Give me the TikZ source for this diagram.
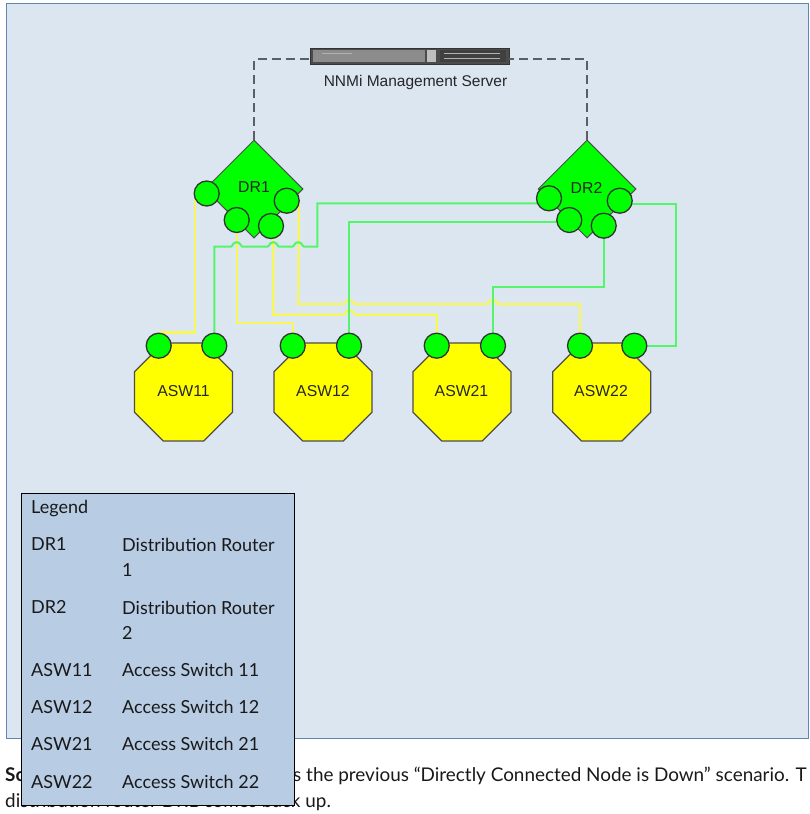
\documentclass[tikz,border=0pt]{standalone}
\usepackage{fontspec}
\setmainfont{Liberation Sans}
\newfontfamily\legendfont{Lato}
\usetikzlibrary{shapes.geometric}
\definecolor{panelblue}{HTML}{DCE6F1}
\definecolor{panelline}{HTML}{5F86B3}
\definecolor{legendblue}{HTML}{B8CCE4}
\definecolor{portgreen}{HTML}{00FF00}
\definecolor{switchyellow}{HTML}{FFFF00}
\definecolor{wiregreen}{HTML}{55F56A}
\definecolor{wireyellow}{HTML}{F7F75A}
\definecolor{dashgray}{HTML}{5A5F66}
\definecolor{edgegray}{HTML}{4D4D4D}
\pgfdeclarelayer{panel}
\pgfdeclarelayer{wires}
\pgfsetlayers{panel,wires,main}
\tikzset{
	router/.style={diamond,aspect=1,draw=edgegray,line width=1pt,fill=portgreen,inner sep=0pt,minimum size=98pt},
	switchbox/.style={regular polygon,regular polygon sides=8,draw=edgegray,line width=1.2pt,fill=switchyellow,inner sep=0pt,minimum size=106pt},
	port/.style={circle,draw=black!80,line width=1.3pt,fill=portgreen,inner sep=0pt,minimum size=25pt},
	devlabel/.style={font=\fontsize{15.8}{18}\selectfont,text=black!85},
	legendtext/.style={font=\legendfont\fontsize{18}{25.5}\selectfont,anchor=base west,align=left,text=black!90,inner sep=0pt},
	bodytext/.style={font=\legendfont\fontsize{18.9}{25.5}\selectfont,anchor=base west,inner sep=0pt,text=black!90},
	greenwire/.style={draw=wiregreen,line width=2pt},
	yellowwire/.style={draw=wireyellow,line width=2.2pt},
	mgmtlink/.style={dash pattern=on 9pt off 5pt,draw=dashgray,line width=2pt}
}
\newcommand{\hop}[2]{-- (#1-6,#2) .. controls (#1-4,#2) and (#1-4,#2-4.5) .. (#1,#2-4.5) .. controls (#1+4,#2-4.5) and (#1+4,#2) .. (#1+6,#2)}
\begin{document}
\begin{tikzpicture}[x=1pt,y=-1pt]
	\useasboundingbox (0,0) rectangle (809,814);
	\begin{pgfonlayer}{panel}
	\node[bodytext] (sc) at (5,781) {\bfseries Sc};
	\node[bodytext] (prev) at (293,781) {s the previous “Directly Connected Node is Down” scenario. T};
	\node[bodytext] (dist) at (5,807.5) {distribution router DR1 comes back up.};
	\node[draw=panelline,fill=panelblue,line width=1pt,minimum width=802pt,minimum height=735pt,anchor=north west,inner sep=0pt] (panel) at (6,3) {};
	\end{pgfonlayer}

	\node[draw=black!80,fill=black!70,minimum width=199pt,minimum height=16pt,inner sep=0pt] (server) at (409.5,56) {};
	\fill[black!45] (313,50) rectangle (425,62);
	\fill[black!75] (440,50) rectangle (506,62);
	\fill[black!25] (427,50) rectangle (436,62);
	\draw[black!30,line width=1pt] (444,53) -- (500,53) (444,58) -- (500,58);
	\draw[white!70!black,line width=1pt] (322,53) -- (352,53);
	\node[devlabel,font=\fontsize{15.5}{17}\selectfont] (serverlabel) at (415.5,82.5) {NNMi Management Server};

	\node[router] (DR1) at (254,189) {};
	\node[router] (DR2) at (587,189) {};
	\node[switchbox] (ASW11) at (183.5,392) {};
	\node[switchbox] (ASW12) at (323,392) {};
	\node[switchbox] (ASW21) at (462,392) {};
	\node[switchbox] (ASW22) at (601.7,392) {};
	\node[devlabel] (DR1label) at (254,187.5) {DR1};
	\node[devlabel] (DR2label) at (586.5,187.5) {DR2};
	\node[devlabel] (ASW11label) at (183.5,391) {ASW11};
	\node[devlabel] (ASW12label) at (323,391) {ASW12};
	\node[devlabel] (ASW21label) at (461.5,391) {ASW21};
	\node[devlabel] (ASW22label) at (601,391) {ASW22};

	\node[port] (DR1a) at (206.7,193.5) {};
	\node[port] (DR1b) at (236.7,220) {};
	\node[port] (DR1c) at (271,226) {};
	\node[port] (DR1d) at (286.7,200.7) {};
	\node[port] (DR2a) at (549,198.3) {};
	\node[port] (DR2b) at (569.3,220) {};
	\node[port] (DR2c) at (603.7,225.7) {};
	\node[port] (DR2d) at (619.7,200.7) {};
	\node[port] (ASW11a) at (158.7,345.7) {};
	\node[port] (ASW11b) at (214.3,345.7) {};
	\node[port] (ASW12a) at (292.7,345.7) {};
	\node[port] (ASW12b) at (349,345.7) {};
	\node[port] (ASW21a) at (436.7,345.7) {};
	\node[port] (ASW21b) at (493,345.7) {};
	\node[port] (ASW22a) at (580,345.7) {};
	\node[port] (ASW22b) at (634.3,345.7) {};

	\draw[mgmtlink] (DR1.north) |- ([yshift=-3pt]server.west);
	\draw[mgmtlink] (DR2.north) |- ([yshift=-3pt]server.east);

	\begin{pgfonlayer}{wires}
	\path[yellowwire] (DR1a.206) |- (ASW11a.north);
	\path[yellowwire] (DR1b) -- (236.7,323.3) -| (ASW12a);
	\path[yellowwire] (DR1c.-80) -- (273.3,314.7) \hop{349.3}{314.7} -| (ASW21a);
	\path[yellowwire] (DR1d.-22) -- (298.3,304.3) \hop{349.3}{304.3} \hop{492.7}{304.3} -| (ASW22a);
	\path[greenwire] (ASW11b) -- (214.3,246.7) \hop{236.7}{246.7} \hop{273.3}{246.7} \hop{298.3}{246.7} -- (317.3,246.7) |- ([yshift=-5pt]DR2a.center);
	\path[greenwire] (ASW12b) |- ([yshift=-1.7pt]DR2b.center);
	\path[greenwire] (ASW21b) |- (603.7,287.3) -- (DR2c);
	\path[greenwire] ([yshift=-3.3pt]DR2d.center) -- (676,204) |- (ASW22b);
	\end{pgfonlayer}

	\node[draw=black,fill=legendblue,line width=.8pt,minimum width=273pt,minimum height=312pt,anchor=north west,inner sep=0pt] (legendbox) at (21.3,493) {};
	\node[legendtext] (legendtitle) at (31,513.3) {Legend};
	\node[legendtext] (keya) at (31,550.7) {DR1};
	\node[legendtext,anchor=north west] (vala) at (122,538) {Distribution Router\\1};
	\node[legendtext] (keyb) at (31,613.7) {DR2};
	\node[legendtext,anchor=north west] (valb) at (122,601) {Distribution Router\\2};
	\node[legendtext] (keyc) at (31,676) {ASW11};
	\node[legendtext] (valc) at (122,676) {Access Switch 11};
	\node[legendtext] (keyd) at (31,713.5) {ASW12};
	\node[legendtext] (vald) at (122,713.5) {Access Switch 12};
	\node[legendtext] (keye) at (31,750.7) {ASW21};
	\node[legendtext] (vale) at (122,750.7) {Access Switch 21};
	\node[legendtext] (keyf) at (31,788) {ASW22};
	\node[legendtext] (valf) at (122,788) {Access Switch 22};
\end{tikzpicture}
\end{document}
